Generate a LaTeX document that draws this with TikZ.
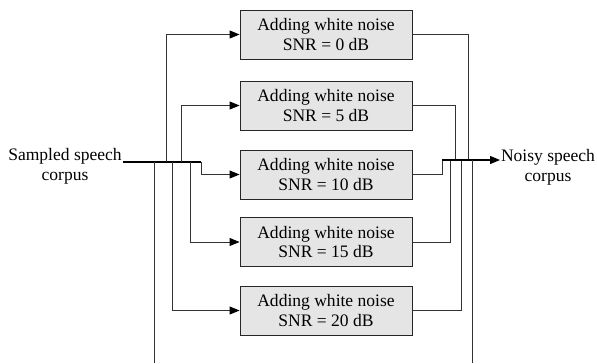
\documentclass[tikz,border=0pt]{standalone}
\usepackage{fontspec}
\setmainfont{Liberation Serif}
\usetikzlibrary{arrows.meta}
\begin{document}
\begin{tikzpicture}[x=1bp,y=-1bp,
  txt/.style={font=\fontsize{17.6}{20}\selectfont, align=center, inner sep=0pt},
  noisebox/.style={txt, draw=black!85, line width=0.9bp, fill=black!10,
    minimum width=172bp, minimum height=49bp},
  wire/.style={draw=black!80, line width=0.9bp},
  bus/.style={draw=black, line width=1.2bp},
  tip/.style={-{Triangle[length=10bp,width=8bp,black]}},
  feed/.style={wire, tip}]
\useasboundingbox (0,0) rectangle (597,363);

% the five noise-adding stages
\node[noisebox] (b1) at (326,34.5)  {Adding white noise\\SNR = 0 dB};
\node[noisebox] (b2) at (326,105.5) {Adding white noise\\SNR = 5 dB};
\node[noisebox] (b3) at (326,174.5) {Adding white noise\\SNR = 10 dB};
\node[noisebox] (b4) at (326,242)   {Adding white noise\\SNR = 15 dB};
\node[noisebox] (b5) at (326,310.5) {Adding white noise\\SNR = 20 dB};

% input and output labels
\node[txt] (src) at (65,166)  {Sampled speech\\corpus};
\node[txt] (dst) at (548,167) {Noisy speech\\corpus};

% junction points on the input and output buses
\coordinate (inL)  at (123,162);
\coordinate (inE)  at (201,162);
\coordinate (outS) at (442,160);
\coordinate (outR) at (500,160);

% input bus and its branches
\draw[bus] (inL) -- (inE);
\draw[feed] (inE) |- (b3.west);
\draw[feed] (166,162) |- (b1.west);
\draw[feed] (181,162) |- (b2.west);
\draw[feed] (190,162) |- (b4.west);
\draw[feed] (172,162) |- (b5.west);
\draw[wire] (154,162) -- (154,363);

% output branches merging into the output bus
\draw[wire] (b1.east) -| (468,160);
\draw[wire] (b2.east) -| (455,160);
\draw[wire] (b4.east) -| (450,160);
\draw[wire] (b5.east) -| (461,160);
\draw[wire] (b3.east) -| (outS);
\draw[bus, tip] (outS) -- (outR);
\draw[wire] (472,160) -- (472,363);
\end{tikzpicture}
\end{document}
